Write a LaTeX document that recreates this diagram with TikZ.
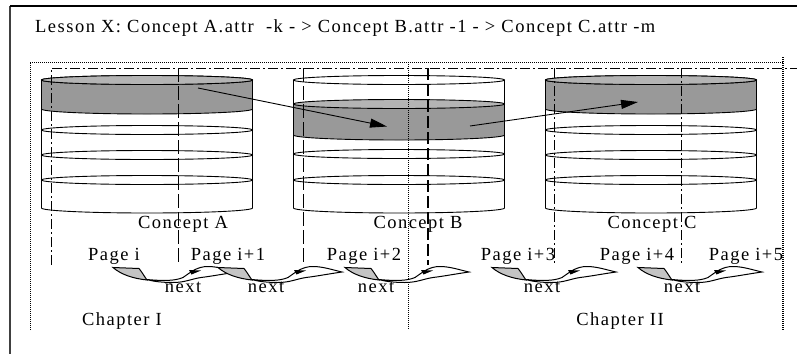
\documentclass[tikz,border=0pt]{standalone}
\usepackage{fontspec}
\setmainfont{Liberation Serif}[LetterSpace=8]
\usetikzlibrary{arrows.meta}
\definecolor{bandgray}{HTML}{999999}
\definecolor{topgray}{HTML}{B4B4B4}
\definecolor{nextgray}{HTML}{C4C4C4}
\tikzset{
  lbl/.style={anchor=base, inner sep=0pt, font=\fontsize{18.5}{18.5}\selectfont},
  edge/.style={line width=0.9pt},
  dashdot/.style={line width=0.9pt, dash pattern=on 10pt off 3pt on 2pt off 3pt},
  longdash/.style={line width=0.9pt, dash pattern=on 14pt off 4pt},
  thickdash/.style={line width=2.2pt, dash pattern=on 12pt off 4pt},
  dotline/.style={line width=0.8pt, dash pattern=on 1pt off 1pt},
  bigarrow/.style={line width=0.9pt, -{Triangle[length=17pt,width=9pt]}},
  nextline/.style={line width=1pt},
}
\newcommand\drawcyl[4]{%
 \begin{scope}[shift={(#1,0)}]
  \fill[white] (-105.5,-80) -- (-105.5,-208) arc[start angle=180,end angle=360,x radius=105.5,y radius=5] -- (105.5,-80) -- cycle;
  \fill[bandgray] (-105.5,-#2) arc[start angle=180,end angle=0,x radius=105.5,y radius=4.5] -- (105.5,-#3) arc[start angle=0,end angle=-180,x radius=105.5,y radius=5] -- cycle;
  \draw[edge,fill=white] (0,-80) ellipse[x radius=105.5,y radius=4.5];
  \draw[edge,fill=topgray] (0,-#2) ellipse[x radius=105.5,y radius=4.5];
  \draw[edge] (105.5,-#3) arc[start angle=0,end angle=-180,x radius=105.5,y radius=5];
  \foreach \e in {#4} \draw[edge] (0,-\e) ellipse[x radius=105.5,y radius=4.5];
  \draw[edge] (-105.5,-80) -- (-105.5,-208) arc[start angle=180,end angle=360,x radius=105.5,y radius=5] -- (105.5,-80);
 \end{scope}}
\newcommand\nextarrow[1]{%
 \begin{scope}[shift={(#1,-265)}]
  \draw[nextline,fill=white] (34,-14.5) .. controls (50,-16) and (62,-16) .. (70,-12.5) .. controls (78,-7) and (84,-1.5) .. (95,-1.5) .. controls (105,-1.5) and (115,-5) .. (124,-7) .. controls (110,-9) and (100,-11) .. (88,-12.5) .. controls (78,-14) and (72,-17.5) .. (60,-17.5) .. controls (50,-17.5) and (40,-16.5) .. (34,-14.5) -- cycle;
  \draw[nextline,fill=nextgray] (0,-2.5) -- (26,-3.5) .. controls (29,-7) and (31,-11) .. (34,-15) .. controls (20,-13.5) and (8,-9.5) .. (0,-2.5) -- cycle;
  \fill (88,-5.5) -- (76,-5) -- (78.5,-9.5) -- cycle;
 \end{scope}}
\begin{document}
\begin{tikzpicture}[x=1pt,y=1pt]
\useasboundingbox (0,0) rectangle (797,-354);
\fill[white] (0,0) rectangle (797,-354);
% outer frame
\draw[line width=2pt,black!75] (10,-6) -- (10,-354);
\draw[line width=1.3pt] (10,-6) -- (797,-6);
% title
\node[lbl,anchor=base west] (title) at (35,-32) {Lesson X: Concept A.attr\ \ -k - > Concept B.attr -1 - > Concept C.attr -m};
% cylinders
\drawcyl{147}{80}{109}{130,155,180}
\drawcyl{399}{104}{135}{154,180}
\drawcyl{651}{80}{109}{130,155,180}
% concept arrows
\coordinate (a0) at (198,-88);
\coordinate (b1) at (387,-126.5);
\coordinate (b0) at (470,-126);
\coordinate (c1) at (638,-102);
\draw[bigarrow] (a0) -- (b1);
\draw[bigarrow] (b0) -- (c1);
% chapter dotted frames
\draw[dotline] (30,-330) -- (30,-62) -- (783,-62);
\draw[dotline] (408,-62) -- (408,-330);
\draw[line width=1.6pt, dash pattern=on 1pt off 1pt] (783,-57) -- (783,-330);
% lesson dash-dot frames
\draw[dashdot] (51,-265) -- (51,-68) -- (797,-68);
\draw[longdash] (178,-68) -- (178,-265);
\draw[longdash] (303,-68) -- (303,-265);
\draw[thickdash] (428,-68) -- (428,-265);
\draw[dashdot] (554,-68) -- (554,-265);
\draw[dashdot] (681,-68) -- (681,-265);
% labels
\node[lbl] (conA) at (183,-228) {Concept A};
\node[lbl] (conB) at (418,-228) {Concept B};
\node[lbl] (conC) at (652,-228) {Concept C};
\node[lbl] (p0) at (114,-260) {Page i};
\node[lbl] (p1) at (228,-260) {Page i+1};
\node[lbl] (p2) at (364,-260) {Page i+2};
\node[lbl] (p3) at (518,-260) {Page i+3};
\node[lbl] (p4) at (637,-260) {Page i+4};
\node[lbl] (p5) at (746,-260) {Page i+5};
% next arrows
\nextarrow{113}
\nextarrow{218}
\nextarrow{345}
\nextarrow{492}
\nextarrow{638}
\node[lbl] (n1) at (183,-292) {next};
\node[lbl] (n2) at (266,-292) {next};
\node[lbl] (n3) at (376,-292) {next};
\node[lbl] (n4) at (542,-292) {next};
\node[lbl] (n5) at (682,-292) {next};
\node[lbl] (ch1) at (122,-325) {Chapter I};
\node[lbl] (ch2) at (620,-325) {Chapter II};
\end{tikzpicture}
\end{document}
